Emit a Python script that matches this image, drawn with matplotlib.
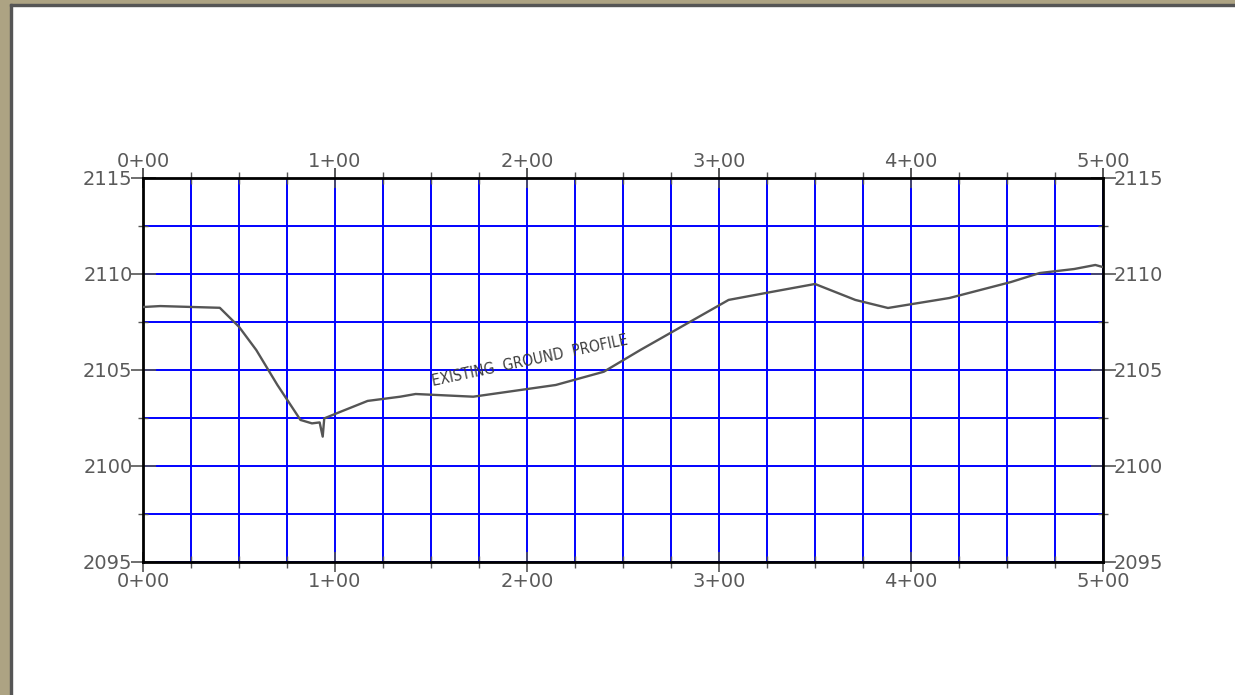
import matplotlib
matplotlib.use("Agg")
import matplotlib.pyplot as plt
from matplotlib.patches import Rectangle
import numpy as np

# ground profile, station in feet and elevation in feet
station = [0, 9, 40, 50, 59, 70, 82, 88, 92, 93.6, 94.4, 103, 117, 134, 142,
           172, 215, 240, 259, 305, 327, 350, 371, 388, 420, 452, 467, 485, 496, 500]
elevation = [2108.28, 2108.33, 2108.24, 2107.25, 2106.04, 2104.22, 2102.40, 2102.22,
             2102.27, 2101.53, 2102.48, 2102.83, 2103.39, 2103.61, 2103.75,
             2103.61, 2104.22, 2104.91, 2106.04, 2108.65, 2109.06, 2109.48,
             2108.65, 2108.23, 2108.75, 2109.58, 2110.05, 2110.26, 2110.47, 2110.36]

station_ticks = [0, 100, 200, 300, 400, 500]
station_labels = ["0+00", "1+00", "2+00", "3+00", "4+00", "5+00"]
elev_ticks = [2095, 2100, 2105, 2110, 2115]
label_text = "EXISTING  GROUND  PROFILE"

W, H = 1235, 695
fig = plt.figure(figsize=(W / 100, H / 100), dpi=100)
fig.patch.set_facecolor("white")

# tan window border + dark edge line
tan = "#ada383"
fig.patches.append(Rectangle((0, 0), 10 / W, 1, transform=fig.transFigure, color=tan, zorder=0))
fig.patches.append(Rectangle((0, 1 - 4 / H), 1, 4 / H, transform=fig.transFigure, color=tan, zorder=0))
fig.patches.append(Rectangle((10 / W, 0), 2 / W, 1 - 4 / H, transform=fig.transFigure, color="#555555", zorder=0))
fig.patches.append(Rectangle((10 / W, 1 - 6 / H), 1, 2 / H, transform=fig.transFigure, color="#555555", zorder=0))

ax = fig.add_axes([143 / W, (H - 562) / H, 960 / W, 384 / H])
ax.set_xlim(0, 500)
ax.set_ylim(2095, 2115)

ax.set_xticks(station_ticks)
ax.set_xticklabels(station_labels)
ax.set_xticks(np.arange(0, 501, 25), minor=True)
ax.set_yticks(elev_ticks)
ax.set_yticks(np.arange(2095, 2115.1, 2.5), minor=True)

ax.grid(True, which="both", color="#0000ff", linewidth=1.4, zorder=1)
ax.set_axisbelow(True)

for s in ax.spines.values():
    s.set_color("black")
    s.set_linewidth(2)

lab_color = "#5a5a5a"
lab_font = "DejaVu Sans"
ax.tick_params(axis="x", which="major", direction="inout", length=14, width=1.2, color="#555555",
               top=True, labeltop=False, bottom=True, labelbottom=True, pad=0,
               labelsize=14, labelcolor=lab_color)
ax.tick_params(axis="x", which="minor", direction="inout", length=8, width=1, color="#555555",
               top=True, bottom=True)
ax.tick_params(axis="y", which="major", direction="inout", length=18, width=1.2, color="#555555",
               left=True, right=True, labelleft=True, labelright=True, pad=-1.5,
               labelsize=14, labelcolor=lab_color)
ax.tick_params(axis="y", which="minor", direction="inout", length=7, width=1, color="#555555",
               left=True, right=True)

# station labels along the top edge
top = ax.secondary_xaxis("top")
top.set_xticks(station_ticks)
top.set_xticklabels(station_labels)
top.tick_params(axis="x", which="major", direction="inout", length=14, width=1.2, color="#555555",
                pad=-2, labelsize=14, labelcolor=lab_color)
top.spines["top"].set_visible(False)

for t in ax.get_xticklabels() + ax.get_yticklabels() + top.get_xticklabels():
    t.set_family(lab_font)

ax.plot(station, elevation, color="#555555", linewidth=1.7, zorder=3)

ax.text(151, 2104.17, label_text, rotation=12, rotation_mode="anchor",
        ha="left", va="baseline", fontsize=11, color="#3c3c3c",
        family="DejaVu Sans", fontstretch="condensed", zorder=4)

fig.savefig("out.png", dpi=100, facecolor="white")
